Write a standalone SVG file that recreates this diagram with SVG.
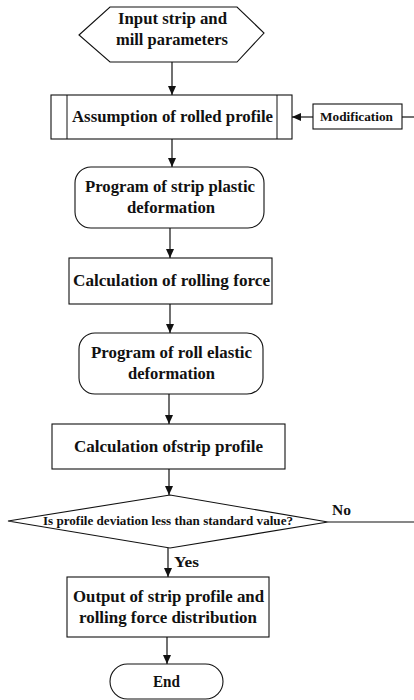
<svg xmlns="http://www.w3.org/2000/svg" width="414" height="700" viewBox="0 0 414 700">
<style>
.s{fill:#fff;stroke:#111;stroke-width:1.1}
.t{font-family:"Liberation Serif","DejaVu Serif",serif;font-weight:bold;font-size:16px;fill:#111;text-anchor:middle}
.sm{font-size:11.5px}
.lb{font-size:14px}
.c{stroke:#111;stroke-width:1.2;fill:none}
</style>
<defs>
<marker id="ah" markerUnits="userSpaceOnUse" markerWidth="9" markerHeight="8" refX="9" refY="4" orient="auto">
<path d="M0,0 L9,4 L0,8 z" fill="#111"/>
</marker>
</defs>
<rect width="414" height="700" fill="#fff"/>
<g id="connectors">
<line class="c" x1="172" y1="62" x2="172" y2="95" marker-end="url(#ah)"/>
<line class="c" x1="172" y1="139" x2="172" y2="167" marker-end="url(#ah)"/>
<line class="c" x1="170" y1="228" x2="170" y2="258" marker-end="url(#ah)"/>
<line class="c" x1="170" y1="304" x2="170" y2="333" marker-end="url(#ah)"/>
<line class="c" x1="169" y1="394" x2="169" y2="424" marker-end="url(#ah)"/>
<line class="c" x1="169" y1="469" x2="169" y2="495" marker-end="url(#ah)"/>
<line class="c" x1="168" y1="548" x2="168" y2="577" marker-end="url(#ah)"/>
<line class="c" x1="167" y1="637" x2="167" y2="664" marker-end="url(#ah)"/>
<line class="c" x1="313" y1="117" x2="292" y2="117" marker-end="url(#ah)"/>
<line class="c" x1="402" y1="117" x2="414" y2="117"/>
<line class="c" x1="328" y1="522" x2="414" y2="522"/>
<text class="t lb" x="341.5" y="515" textLength="19" lengthAdjust="spacingAndGlyphs">No</text>
<text class="t lb" x="186.5" y="567" textLength="25" lengthAdjust="spacingAndGlyphs">Yes</text>
</g>
<g id="input">
<polygon class="s" points="79,35 110,7 237,7 264,33 237,62 110,62"/>
<text class="t" x="172.5" y="24" textLength="109" lengthAdjust="spacingAndGlyphs">Input strip and</text>
<text class="t" x="172" y="45" textLength="112" lengthAdjust="spacingAndGlyphs">mill parameters</text>
</g>
<g id="assumption">
<rect class="s" x="51" y="95" width="241" height="44"/>
<line class="c" x1="67" y1="95" x2="67" y2="139" style="stroke-width:1"/>
<line class="c" x1="277" y1="95" x2="277" y2="139" style="stroke-width:1"/>
<text class="t" x="172.5" y="122" textLength="201" lengthAdjust="spacingAndGlyphs">Assumption of rolled profile</text>
</g>
<g id="modification">
<rect class="s" x="313" y="104" width="89" height="25"/>
<text class="t sm" x="356.5" y="121" textLength="73" lengthAdjust="spacingAndGlyphs">Modification</text>
</g>
<g id="plastic">
<rect class="s" x="75" y="167" width="189" height="61" rx="16"/>
<text class="t" x="170" y="192" textLength="170" lengthAdjust="spacingAndGlyphs">Program of strip plastic</text>
<text class="t" x="171" y="213" textLength="88" lengthAdjust="spacingAndGlyphs">deformation</text>
</g>
<g id="force">
<rect class="s" x="69" y="258" width="203" height="46"/>
<text class="t" x="171.5" y="286" textLength="197" lengthAdjust="spacingAndGlyphs">Calculation of rolling force</text>
</g>
<g id="elastic">
<rect class="s" x="79" y="333" width="184" height="61" rx="16"/>
<text class="t" x="171.5" y="358" textLength="161" lengthAdjust="spacingAndGlyphs">Program of roll elastic</text>
<text class="t" x="171.5" y="379" textLength="87" lengthAdjust="spacingAndGlyphs">deformation</text>
</g>
<g id="profile">
<rect class="s" x="52" y="424" width="233" height="45"/>
<text class="t" x="168.5" y="452" textLength="189" lengthAdjust="spacingAndGlyphs">Calculation ofstrip profile</text>
</g>
<g id="decision">
<polygon class="s" points="8,521 170,495 328,522 170,548"/>
<text class="t sm" x="168" y="525" textLength="250" lengthAdjust="spacingAndGlyphs">Is profile deviation less than standard value?</text>
</g>
<g id="output">
<rect class="s" x="67" y="577" width="202" height="60"/>
<text class="t" x="168.5" y="602" textLength="191" lengthAdjust="spacingAndGlyphs">Output of strip profile and</text>
<text class="t" x="168" y="623" textLength="178" lengthAdjust="spacingAndGlyphs">rolling force distribution</text>
</g>
<g id="end">
<rect class="s" x="110" y="664" width="113" height="35" rx="17.5"/>
<text class="t" x="166.5" y="687" textLength="27" lengthAdjust="spacingAndGlyphs">End</text>
</g>
</svg>
